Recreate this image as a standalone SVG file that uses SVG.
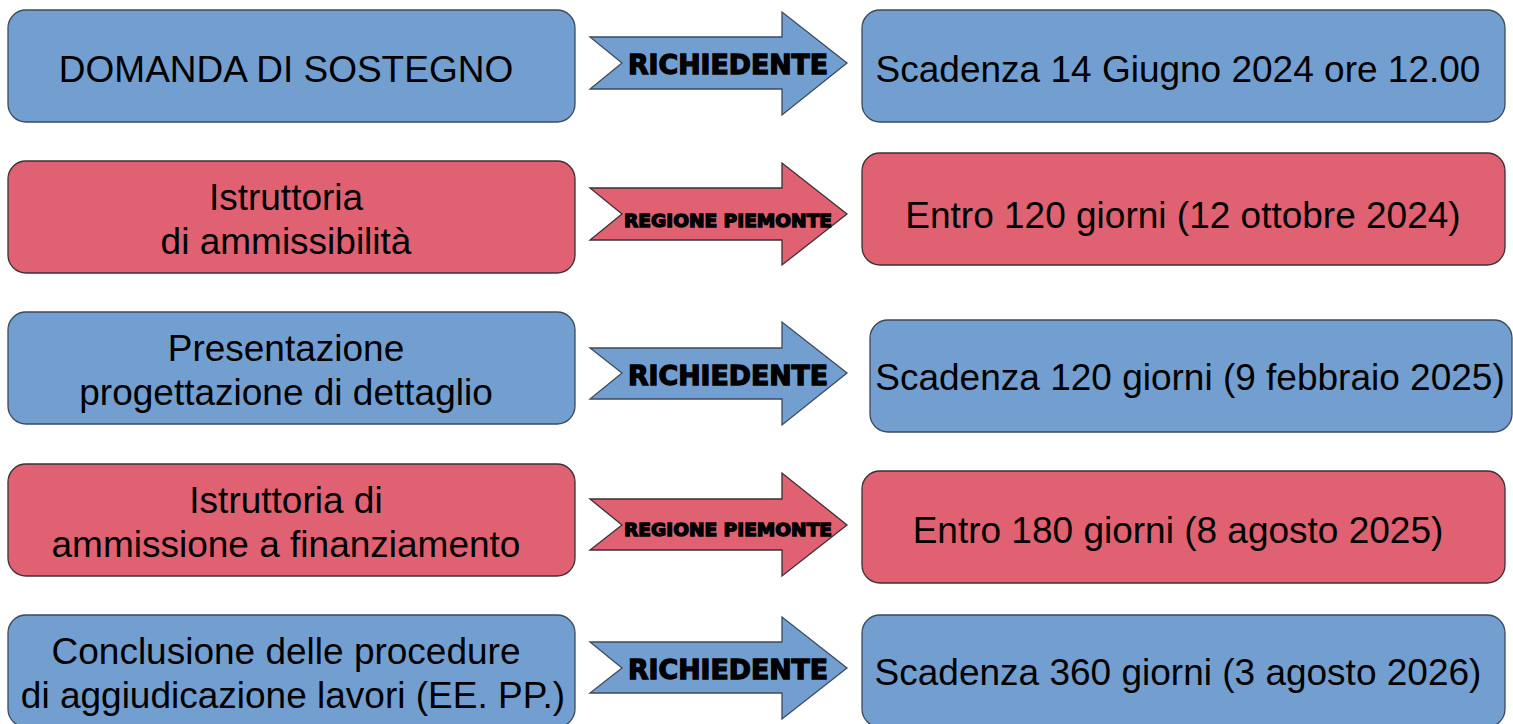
<svg xmlns="http://www.w3.org/2000/svg" width="1513" height="724" viewBox="0 0 1513 724">
<style>
.bg{fill:#ffffff}
.blue{fill:#729fcf;stroke:#3c4a5c;stroke-width:1.3}
.red{fill:#e06272;stroke:#3c3035;stroke-width:1.3}
.t{font-family:"Liberation Sans",Arial,sans-serif;font-size:37px;fill:#000;text-anchor:middle}
.a{font-family:"DejaVu Sans","Liberation Sans",sans-serif;font-weight:bold;fill:#000;stroke:#000;stroke-width:1.3;text-anchor:middle}
.a1{font-size:26px}
.a2{font-size:17.5px}
</style>
<rect class="bg" x="0" y="0" width="1513" height="724"/>
<g id="left1"><rect class="blue" x="8" y="10" width="567" height="112" rx="18"/><text class="t" x="286" y="82">DOMANDA DI SOSTEGNO</text></g>
<g id="left2"><rect class="red" x="8" y="161" width="567" height="112" rx="18"/><text class="t" x="286" y="210">Istruttoria</text><text class="t" x="286" y="254">di ammissibilità</text></g>
<g id="left3"><rect class="blue" x="8" y="312" width="567" height="112" rx="18"/><text class="t" x="286" y="361">Presentazione</text><text class="t" x="286" y="405">progettazione di dettaglio</text></g>
<g id="left4"><rect class="red" x="8" y="464" width="567" height="112" rx="18"/><text class="t" x="286" y="513">Istruttoria di</text><text class="t" x="286" y="557">ammissione a finanziamento</text></g>
<g id="left5"><rect class="blue" x="8" y="615" width="567" height="112" rx="18"/><text class="t" x="286" y="664">Conclusione delle procedure</text><text class="t" x="293" y="708">di aggiudicazione lavori (EE. PP.)</text></g>
<g id="right1"><rect class="blue" x="862" y="10" width="643" height="112" rx="18"/><text class="t" x="1178" y="82">Scadenza 14 Giugno 2024 ore 12.00</text></g>
<g id="right2"><rect class="red" x="862" y="153" width="643" height="112" rx="18"/><text class="t" x="1183" y="228">Entro 120 giorni (12 ottobre 2024)</text></g>
<g id="right3"><rect class="blue" x="870" y="320" width="642" height="112" rx="18"/><text class="t" x="1190" y="390">Scadenza 120 giorni (9 febbraio 2025)</text></g>
<g id="right4"><rect class="red" x="862" y="471" width="643" height="112" rx="18"/><text class="t" x="1178" y="543">Entro 180 giorni (8 agosto 2025)</text></g>
<g id="right5"><rect class="blue" x="862" y="615" width="643" height="112" rx="18"/><text class="t" x="1178" y="685">Scadenza 360 giorni (3 agosto 2026)</text></g>
<g id="connectors">
<g id="arrow1"><polygon class="blue" points="590,37 782,37 782,12 847,63 782,115 782,89 590,89 622,63"/><text class="a a1" x="728" y="74" textLength="200" lengthAdjust="spacingAndGlyphs">RICHIEDENTE</text></g>
<g id="arrow2"><polygon class="red" points="590,188 782,188 782,163 847,214 782,265 782,240 590,240 622,214"/><text class="a a2" x="728" y="227" textLength="208" lengthAdjust="spacingAndGlyphs">REGIONE PIEMONTE</text></g>
<g id="arrow3"><polygon class="blue" points="590,348 782,348 782,322 847,373 782,425 782,399 590,399 622,373"/><text class="a a1" x="728" y="385" textLength="200" lengthAdjust="spacingAndGlyphs">RICHIEDENTE</text></g>
<g id="arrow4"><polygon class="red" points="590,499 782,499 782,473 847,525 782,576 782,550 590,550 622,525"/><text class="a a2" x="728" y="536" textLength="208" lengthAdjust="spacingAndGlyphs">REGIONE PIEMONTE</text></g>
<g id="arrow5"><polygon class="blue" points="590,642 782,642 782,617 847,668 782,719 782,693 590,693 622,668"/><text class="a a1" x="728" y="679" textLength="200" lengthAdjust="spacingAndGlyphs">RICHIEDENTE</text></g>
</g>
</svg>
